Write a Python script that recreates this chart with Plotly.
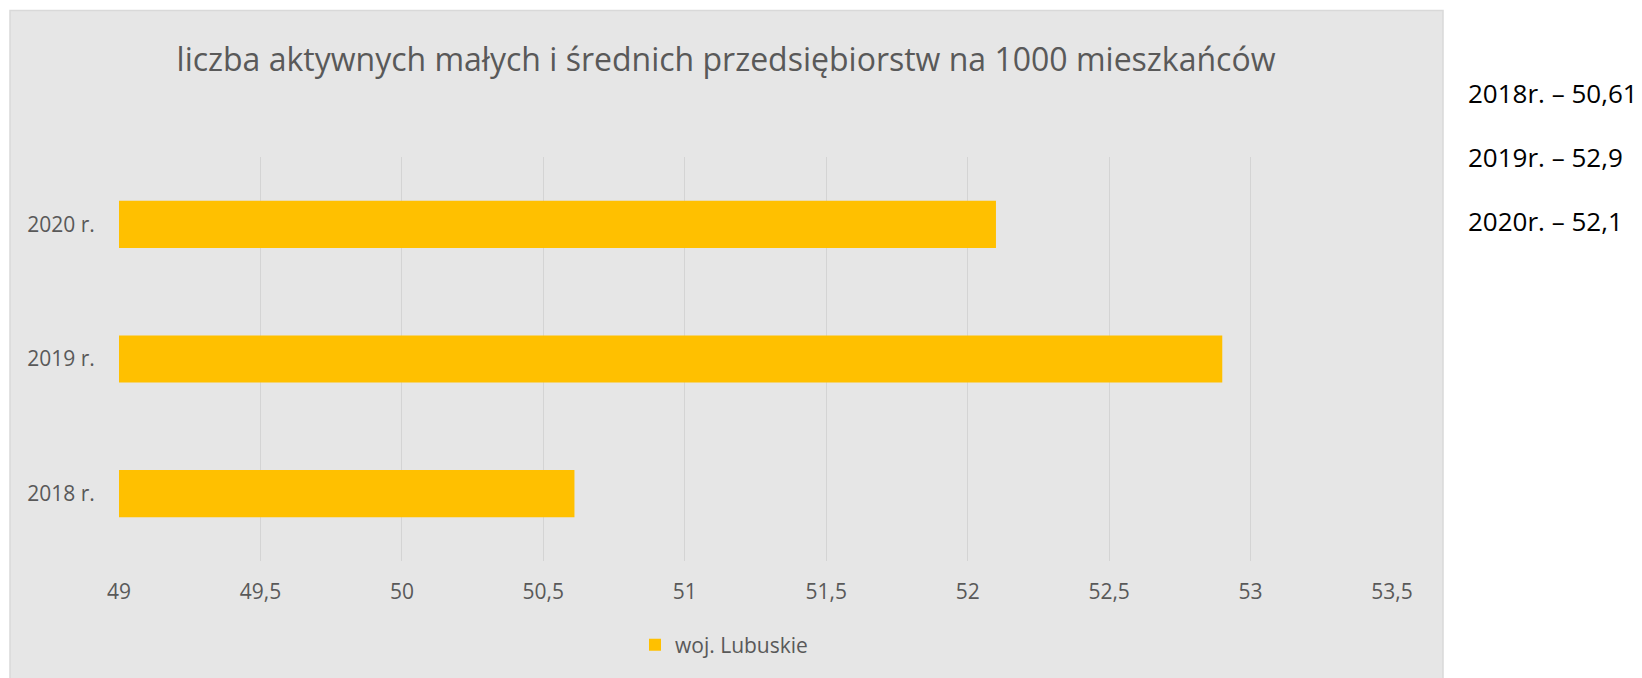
import plotly.graph_objects as go

categories = ["2018 r.", "2019 r.", "2020 r."]
values = [50.61, 52.9, 52.1]
series_name = "woj. Lubuskie"
title_text = "liczba aktywnych małych i średnich przedsiębiorstw na 1000 mieszkańców"
side_notes = ["2018r. – 50,61", "2019r. – 52,9", "2020r. – 52,1"]
x_ticks = [49, 49.5, 50, 50.5, 51, 51.5, 52, 52.5, 53, 53.5]

OFF = 8  # browser body margin
W, H = 1642 - OFF, 678 - OFF
# plot area in page pixels
L, R, T, B = 119, 1392, 157, 561
pw, ph = R - L, B - T

def px_x(x):
    return (x - L) / pw

def px_y(y):
    return (B - y) / ph

FONT = "Open Sans"
GREY = "#595959"

fig = go.Figure()
fig.add_trace(go.Bar(
    y=categories, x=values, orientation="h", name=series_name,
    marker=dict(color="#FFC000", line=dict(width=0)),
    showlegend=True,
))

fig.add_shape(type="rect", xref="paper", yref="paper",
              x0=px_x(10), x1=px_x(1443), y0=px_y(700), y1=px_y(10.5),
              fillcolor="#E6E6E6", line=dict(color="#D9D9D9", width=1.5),
              layer="below")

for i, txt in enumerate(side_notes):
    fig.add_annotation(text=txt, xref="paper", yref="paper",
                       x=px_x(1466), y=px_y(93 + 64 * i),
                       xanchor="left", yanchor="middle", showarrow=False,
                       font=dict(family=FONT, size=26, color="#000000"))

fig.update_layout(
    width=W, height=H,
    margin=dict(l=L - OFF, r=W - (R - OFF), t=T - OFF, b=H - (B - OFF), pad=0),
    paper_bgcolor="white",
    plot_bgcolor="rgba(0,0,0,0)",
    separators=", ",
    bargap=0.65,
    title=dict(text=title_text, xref="paper", x=px_x(726), xanchor="center",
               yref="container", y=1 - (60 - OFF) / H, yanchor="middle",
               font=dict(family=FONT, size=32, color=GREY)),
    xaxis=dict(range=[49, 53.5], tickvals=x_ticks, showgrid=True,
               gridcolor="#D4D4D4", gridwidth=1, zeroline=False,
               showline=False, ticks="outside", ticklen=12,
               tickcolor="rgba(0,0,0,0)",
               tickfont=dict(family=FONT, size=21, color=GREY)),
    yaxis=dict(showgrid=False, zeroline=False, showline=False,
               ticks="outside", ticklen=19, tickcolor="rgba(0,0,0,0)",
               tickfont=dict(family=FONT, size=21, color=GREY)),
    legend=dict(orientation="h", xanchor="left", x=px_x(635),
                yanchor="middle", y=px_y(645),
                bgcolor="rgba(0,0,0,0)",
                font=dict(family=FONT, size=21, color=GREY)),
)

fig.write_html("out.html")
